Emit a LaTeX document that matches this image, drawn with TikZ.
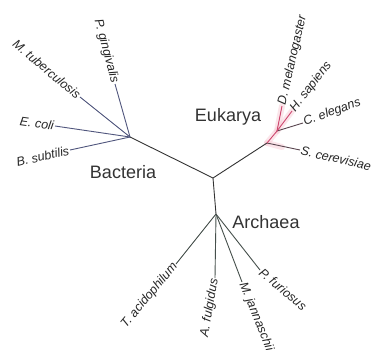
\documentclass[tikz,border=0pt]{standalone}
\usepackage{fontspec}
\setmainfont{Liberation Sans}
\begin{document}
\begin{tikzpicture}[x=1pt,y=-1pt,
  leaf/.style={font=\fontsize{12.5}{13}\selectfont\itshape, inner sep=1pt, text=black!85},
  domainlabel/.style={font=\fontsize{18}{20}\selectfont, text=black!80},
  trunk/.style={draw=black!80, line width=0.9pt},
  bact/.style={draw={rgb,255:red,80;green,86;blue,125}, line width=0.9pt},
  arch/.style={draw={rgb,255:red,70;green,80;blue,76}, line width=0.9pt},
  euk/.style={draw={rgb,255:red,90;green,70;blue,80}, line width=0.9pt},
  eukred/.style={draw={rgb,255:red,205;green,70;blue,110}, line width=0.9pt},
  glow/.style={draw={rgb,255:red,248;green,205;blue,215}, line width=6pt, line cap=round, opacity=0.5}]
\useasboundingbox (0,0) rectangle (374,349);
\fill[white] (0,0) rectangle (374,349);

% internal nodes
\coordinate (C)  at (213,178);
\coordinate (B)  at (130,137);
\coordinate (E1) at (267,143);
\coordinate (E2) at (277,131);
\coordinate (A)  at (216,214);

% leaf tips
\coordinate (pg) at (115,84);
\coordinate (mt) at (80,97);
\coordinate (ec) at (55,126);
\coordinate (bs) at (70,150);
\coordinate (sc) at (300,150);
\coordinate (ce) at (303,123);
\coordinate (hs) at (292,111);
\coordinate (dm) at (282,106);
\coordinate (ta) at (176,264);
\coordinate (af) at (215,278);
\coordinate (mj) at (242,282);
\coordinate (pf) at (260,270);

% pink halo around the eukaryote crown
\draw[glow] (E1) -- (E2) -- (dm);
\draw[glow] (E2) -- (hs);
\draw[glow] (E1) -- (282,147);

% backbone
\draw[trunk] (B) -- (C) -- (A);
\draw[trunk] (C) -- (E1);

% Bacteria
\draw[bact] (B) -- (pg);
\draw[bact] (B) -- (mt);
\draw[bact] (B) -- (ec);
\draw[bact] (B) -- (bs);

% Eukarya
\draw[euk] (E1) -- (sc);
\draw[eukred] (E1) -- (E2);
\draw[euk] (E2) -- (ce);
\draw[eukred] (E2) -- (hs);
\draw[eukred] (E2) -- (dm);

% Archaea
\draw[arch] (A) -- (ta);
\draw[arch] (A) -- (af);
\draw[arch] (A) -- (mj);
\draw[arch] (A) -- (pf);

% leaf labels
\node[leaf, anchor=east, rotate=-75] (lpg) at (pg) {P. gingivalis};
\node[leaf, anchor=east, rotate=-40] (lmt) at (mt) {M. tuberculosis};
\node[leaf, anchor=east, rotate=-8]  (lec) at (ec) {E. coli};
\node[leaf, anchor=east, rotate=13]  (lbs) at (bs) {B. subtilis};
\node[leaf, anchor=west, rotate=-13] (lsc) at (sc) {S. cerevisiae};
\node[leaf, anchor=west, rotate=20]  (lce) at (ce) {C. elegans};
\node[leaf, anchor=west, rotate=52]  (lhs) at (hs) {H. sapiens};
\node[leaf, anchor=west, rotate=77]  (ldm) at (dm) {D. melanogaster};
\node[leaf, anchor=east, rotate=50]  (lta) at (ta) {T. acidophilum};
\node[leaf, anchor=east, rotate=80]  (laf) at (af) {A. fulgidus};
\node[leaf, anchor=west, rotate=-68] (lmj) at (mj) {M. jannaschii};
\node[leaf, anchor=west, rotate=-40] (lpf) at (pf) {P. furiosus};

% domain labels
\node[domainlabel] (bac) at (123,172) {Bacteria};
\node[domainlabel] (eka) at (228,117) {Eukarya};
\node[domainlabel] (arc) at (266,222) {Archaea};
\end{tikzpicture}
\end{document}
